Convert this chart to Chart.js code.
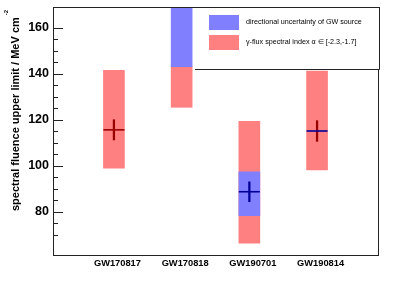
<!DOCTYPE html>
<html>
<head>
<meta charset="utf-8">
<script src="https://cdn.jsdelivr.net/npm/chart.js@4.4.0/dist/chart.umd.min.js"></script>
<style>
  html, body { margin: 0; padding: 0; background: #fff; }
</style>
</head>
<body>
<canvas id="Chart" width="407" height="297"></canvas>
<script>
//events on the x axis
var events = ["GW170817", "GW170818", "GW190701", "GW190814"];
var eventPos = [1, 2, 3, 4];

//gamma-flux spectral index band
var indexLow = [99.0, 125.5, 66.4, 98.3];
var indexHigh = [141.6, 143.2, 119.4, 141.3];

//directional uncertainty band (GW170818 goes off the top)
var dirLow = [null, 143.2, 78.4, null];
var dirHigh = [null, 185.0, 97.4, null];

//central value and its error
var central = [115.7, null, 88.8, 115.2];
var centralErr = [4.4, null, 4.3, 4.5];

//y axis
var yMin = 61.3;
var yMax = 169.1;

var FONT = "'Liberation Sans', Arial, Helvetica, sans-serif";
var DARKRED = "#990000";
var DARKBLUE = "#000099";

function band(lo, hi) {
  return eventPos.map(function (x, i) {
    return { x: x, y: lo[i] == null ? null : [lo[i], hi[i]] };
  });
}

var errData = eventPos.map(function (x, i) {
  return { x: x, y: central[i] == null ? null : [central[i] - centralErr[i], central[i] + centralErr[i]] };
});
var midData = eventPos.map(function (x, i) {
  return { x: x, y: central[i] };
});

//frame, inner ticks, legend and y title
var framePlugin = {
  id: "frame",
  afterDraw: function (chart) {
    var ctx = chart.ctx;
    var a = chart.chartArea;
    var y = chart.scales.y;
    ctx.save();

    //frame
    ctx.strokeStyle = "#222";
    ctx.lineWidth = 1;
    ctx.strokeRect(a.left + 0.5, a.top + 0.5, a.right - a.left, a.bottom - a.top);

    //inner ticks
    ctx.beginPath();
    y.ticks.forEach(function (t) {
      if (t.value % 5 !== 0) return;
      var py = Math.round(y.getPixelForValue(t.value)) + 0.5;
      var len = t.value % 20 === 0 ? 10 : 5;
      ctx.moveTo(a.left, py);
      ctx.lineTo(a.left + len, py);
    });
    ctx.stroke();

    //legend
    var lx = a.left + 142, ly = a.top, lr = a.right + 1, lb = a.top + 62;
    ctx.fillStyle = "#fff";
    ctx.fillRect(lx, ly + 1, lr - lx, lb - ly - 1);
    ctx.beginPath();
    ctx.moveTo(lx, lb + 0.5);
    ctx.lineTo(lr + 0.5, lb + 0.5);
    ctx.lineTo(lr + 0.5, ly);
    ctx.stroke();
    var items = [chart.data.datasets[2], chart.data.datasets[3]];
    ctx.font = "7.2px " + FONT;
    ctx.textBaseline = "middle";
    items.forEach(function (ds, i) {
      var sy = ly + 8 + i * 20;
      ctx.fillStyle = ds.backgroundColor;
      ctx.fillRect(lx + 14, sy, 30, 15);
      ctx.fillStyle = "#000";
      ctx.fillText(ds.label, lx + 51, sy + 7.5);
    });

    //y title
    ctx.translate(18.5, 211);
    ctx.rotate(-Math.PI / 2);
    ctx.fillStyle = "#000";
    ctx.textBaseline = "alphabetic";
    ctx.font = "bold 11px " + FONT;
    var title = "spectral fluence upper limit / MeV cm";
    ctx.fillText(title, 0, 0);
    var w = ctx.measureText(title).width;
    ctx.font = "bold 6px " + FONT;
    ctx.fillText("-2", w + 2, -10.5);
    ctx.restore();
  },
};

var ctx = document.getElementById("Chart").getContext("2d");
var myChart = new Chart(ctx, {
  type: "bar",
  data: {
    datasets: [
      {
        type: "line",
        label: "central",
        data: midData,
        showLine: false,
        pointStyle: "line",
        pointRadius: 10.5,
        pointBorderWidth: 1.6,
        pointBorderColor: [DARKRED, DARKRED, DARKBLUE, DARKBLUE],
      },
      {
        label: "error",
        data: errData,
        grouped: false,
        barThickness: 1.6,
        backgroundColor: [DARKRED, DARKRED, DARKBLUE, DARKRED],
      },
      {
        label: "directional uncertainty of GW source",
        data: band(dirLow, dirHigh),
        grouped: false,
        barThickness: 21,
        backgroundColor: "rgb(128,128,255)",
      },
      {
        label: "\u03b3-flux spectral index \u03b1 \u2208 [-2.3,-1.7]",
        data: band(indexLow, indexHigh),
        grouped: false,
        barThickness: 21,
        backgroundColor: "rgb(255,128,128)",
      },
    ],
  },
  options: {
    responsive: false,
    animation: false,
    devicePixelRatio: 1,
    layout: { autoPadding: false, padding: { top: 7, right: 29, left: 0, bottom: 0 } },
    plugins: { legend: { display: false }, tooltip: { enabled: false } },
    scales: {
      x: {
        type: "linear",
        min: 0.1,
        max: 4.9,
        offset: false,
        grid: { display: false, drawTicks: false, tickLength: 0 },
        border: { display: false },
        afterBuildTicks: function (scale) {
          scale.ticks = eventPos.map(function (v) { return { value: v }; });
        },
        afterFit: function (scale) {
          scale.height = 42;
          scale.paddingLeft = 0;
          scale.paddingRight = 0;
        },
        ticks: {
          autoSkip: false,
          maxRotation: 0,
          padding: 3,
          labelOffset: 3.5,
          color: "#000",
          font: { family: FONT, size: 9.3, weight: "bold" },
          callback: function (v) { return events[eventPos.indexOf(v)]; },
        },
      },
      y: {
        min: yMin,
        max: yMax,
        grid: { display: false, drawTicks: false, tickLength: 0 },
        border: { display: false },
        afterFit: function (scale) {
          scale.width = 53;
          scale.paddingTop = 0;
          scale.paddingBottom = 0;
        },
        ticks: {
          stepSize: 5,
          autoSkip: false,
          padding: 4,
          color: "#000",
          font: { family: FONT, size: 12.5, weight: "bold" },
          callback: function (v) { return v % 20 === 0 ? v : ""; },
        },
      },
    },
  },
  plugins: [framePlugin],
});
</script>
</body>
</html>
